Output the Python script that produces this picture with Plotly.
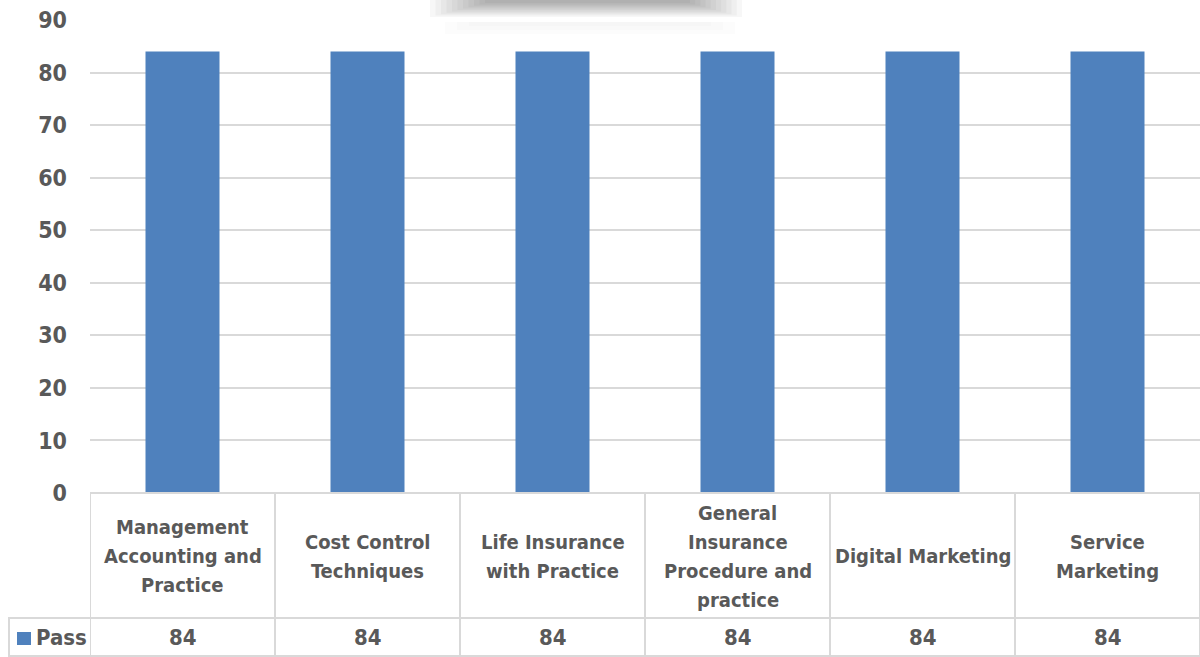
import plotly.graph_objects as go

categories = ["Management<br>Accounting and<br>Practice", "Cost Control<br>Techniques",
              "Life Insurance<br>with Practice", "General<br>Insurance<br>Procedure and<br>practice",
              "Digital Marketing", "Service<br>Marketing"]
series_name = "Pass"
values = [84, 84, 84, 84, 84, 84]
y_ticks = [0, 10, 20, 30, 40, 50, 60, 70, 80, 90]

W, H = 1200, 657
L, R, T, B = 90, 0, 20, 657 - 493
plot_h = H - T - B
plot_w = W - L - R

def py(pix):
    return (H - B - pix) / plot_h

def px(pix):
    return (pix - L) / plot_w

FONT = "Liberation Sans Narrow, DejaVu Sans Condensed, Arial Narrow, sans-serif"
TXT = "#595959"
GRID = "#d9d9d9"
BAR = "#4f81bd"

xs = list(range(len(categories)))
fig = go.Figure(go.Bar(x=xs, y=values, marker=dict(color=BAR, line=dict(width=0)),
                       width=0.4, name=series_name, hoverinfo="y"))

shapes = []
# title shadow remnant: stacked translucent rectangles
for k in range(11):
    shapes.append(dict(type="rect", xref="paper", yref="paper",
                       x0=px(430 + 5.5 * k), x1=px(742 - 5.2 * k),
                       y0=py(17 - 1.4 * k), y1=py(0),
                       fillcolor="black", opacity=0.03, line=dict(width=0), layer="below"))
for k in range(3):
    shapes.append(dict(type="rect", xref="paper", yref="paper",
                       x0=px(445 + 12 * k), x1=px(735 - 12 * k),
                       y0=py(34 - 4 * k), y1=py(22),
                       fillcolor="black", opacity=0.012, line=dict(width=0), layer="below"))

tb = dict(color=GRID, width=2)
for i in range(len(categories) + 1):
    shapes.append(dict(type="line", xref="x", yref="paper", x0=i - 0.5, x1=i - 0.5,
                       y0=py(493), y1=py(656), line=tb))
shapes.append(dict(type="line", xref="paper", yref="paper", x0=px(8), x1=1,
                   y0=py(618), y1=py(618), line=tb))
shapes.append(dict(type="line", xref="paper", yref="paper", x0=px(8), x1=1,
                   y0=py(656), y1=py(656), line=tb))
shapes.append(dict(type="line", xref="paper", yref="paper", x0=px(9), x1=px(9),
                   y0=py(618), y1=py(656), line=tb))
shapes.append(dict(type="line", xref="x", yref="paper", x0=-0.5, x1=len(categories) - 0.5,
                   y0=0, y1=0, line=tb))
# legend key
shapes.append(dict(type="rect", xref="paper", yref="paper", x0=px(17), x1=px(31),
                   y0=py(645), y1=py(632), fillcolor=BAR, line=dict(width=0)))

annotations = []
LINE_GAP = 29
for i, c in enumerate(categories):
    lines = c.split("<br>")
    n = len(lines)
    for j, ln in enumerate(lines):
        yc = 556 + (j - (n - 1) / 2) * LINE_GAP
        annotations.append(dict(x=i, y=py(yc), xref="x", yref="paper", text="<b>%s</b>" % ln,
                                showarrow=False, font=dict(family=FONT, size=20, color=TXT),
                                xanchor="center", yanchor="middle"))
    annotations.append(dict(x=i, y=py(637), xref="x", yref="paper", text="<b>%d</b>" % values[i],
                            showarrow=False, font=dict(family=FONT, size=22, color=TXT),
                            xanchor="center", yanchor="middle"))
annotations.append(dict(x=px(34), y=py(637), xref="paper", yref="paper",
                        text="<b>%s</b>" % series_name,
                        showarrow=False, font=dict(family=FONT, size=22, color=TXT),
                        xanchor="left", yanchor="middle"))

fig.update_layout(
    width=W, height=H, margin=dict(l=L, r=R, t=T, b=B),
    paper_bgcolor="white", plot_bgcolor="white", showlegend=False,
    xaxis=dict(range=[-0.5, len(categories) - 0.5], showticklabels=False, showgrid=False,
               zeroline=False, showline=False, fixedrange=True),
    yaxis=dict(range=[0, 90.001], tickvals=y_ticks, ticktext=["<b>%d</b>" % v for v in y_ticks],
               showgrid=True, gridcolor=GRID, gridwidth=2,
               zeroline=False, showline=False, ticks="", ticklabelstandoff=22,
               tickfont=dict(family=FONT, size=23, color=TXT), fixedrange=True),
    shapes=shapes, annotations=annotations, font=dict(family=FONT),
)
fig.write_html("out.html", config={"displayModeBar": False},
               post_script="document.body.style.margin='0';document.body.style.padding='0';")
